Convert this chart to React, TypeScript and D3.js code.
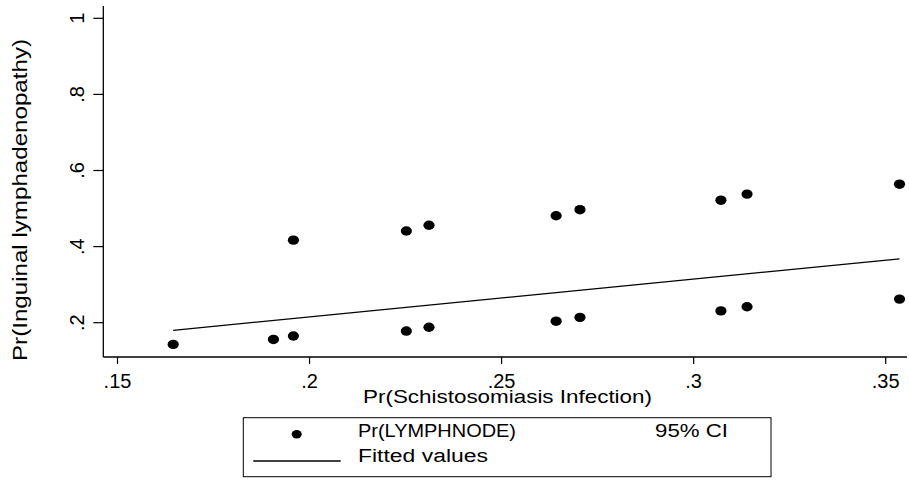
import React, { useRef, useEffect } from 'react'
import * as d3 from 'd3'

// x positions of the estimates
const infection = [0.1645, 0.1906, 0.1958, 0.2252, 0.2311, 0.2642, 0.2704, 0.3071, 0.3139, 0.3536]
// lower and upper points (upper missing where null)
const lowerValues = [0.143, 0.156, 0.165, 0.178, 0.188, 0.204, 0.214, 0.231, 0.242, 0.262]
const upperValues: (number | null)[] = [null, null, 0.417, 0.441, 0.456, 0.481, 0.497, 0.522, 0.538, 0.564]
// fitted line endpoints
const fittedX = [0.1645, 0.3536]
const fittedY = [0.18, 0.368]

const xTicks = [0.15, 0.2, 0.25, 0.3, 0.35]
const xTickLabels = ['.15', '.2', '.25', '.3', '.35']
const yTicks = [0.2, 0.4, 0.6, 0.8, 1]
const yTickLabels = ['.2', '.4', '.6', '.8', '1']

const FONT = '"Liberation Sans", Arial, sans-serif'

export default function App() {
    const svgRef = useRef<SVGSVGElement>(null)

    useEffect(() => {
        const width = 909
        const height = 480
        const svg = d3.select(svgRef.current).attr('width', width).attr('height', height)
        svg.selectAll('*').remove()

        svg.append('rect').attr('width', width).attr('height', height).attr('fill', '#fff')

        const x = d3.scaleLinear().domain([0.15, 0.35]).range([117.5, 885.7])
        const y = d3.scaleLinear().domain([0.2, 1]).range([322.7, 18.3])

        const axisX = 103.3
        const axisY = 357
        const g = svg.append('g').attr('font-family', FONT).attr('fill', '#000')

        // axis lines
        g.append('line')
            .attr('x1', axisX).attr('x2', axisX)
            .attr('y1', 6).attr('y2', axisY)
            .attr('stroke', '#000').attr('stroke-width', 1.3)
        g.append('line')
            .attr('x1', axisX).attr('x2', 907)
            .attr('y1', axisY).attr('y2', axisY)
            .attr('stroke', '#000').attr('stroke-width', 1.3)

        // y ticks + rotated labels
        yTicks.forEach((t, i) => {
            g.append('line')
                .attr('x1', axisX - 10).attr('x2', axisX)
                .attr('y1', y(t)).attr('y2', y(t))
                .attr('stroke', '#000').attr('stroke-width', 1.2)
            g.append('text')
                .attr('transform', `translate(84,${y(t)}) rotate(-90)`)
                .attr('text-anchor', 'middle')
                .attr('font-size', 20)
                .text(yTickLabels[i])
        })

        // x ticks + labels
        xTicks.forEach((t, i) => {
            g.append('line')
                .attr('x1', x(t)).attr('x2', x(t))
                .attr('y1', axisY).attr('y2', axisY + 7)
                .attr('stroke', '#000').attr('stroke-width', 1.2)
            g.append('text')
                .attr('x', x(t)).attr('y', 388)
                .attr('text-anchor', 'middle')
                .attr('font-size', 20)
                .text(xTickLabels[i])
        })

        // axis titles
        g.append('text')
            .attr('x', 507.5).attr('y', 403)
            .attr('text-anchor', 'middle')
            .attr('font-size', 19)
            .attr('textLength', 289)
            .attr('lengthAdjust', 'spacingAndGlyphs')
            .text('Pr(Schistosomiasis Infection)')
        g.append('text')
            .attr('transform', 'translate(27,200) rotate(-90)')
            .attr('text-anchor', 'middle')
            .attr('font-size', 20)
            .attr('textLength', 322)
            .attr('lengthAdjust', 'spacingAndGlyphs')
            .text('Pr(Inguinal lymphadenopathy)')

        // fitted line
        const line = d3.line<number>().x((d) => x(d)).y((_, i) => y(fittedY[i]))
        g.append('path')
            .attr('d', line(fittedX))
            .attr('fill', 'none')
            .attr('stroke', '#000')
            .attr('stroke-width', 1.3)

        // points
        const pts = [
            ...infection.map((v, i) => ({ x: v, y: lowerValues[i] })),
            ...infection.map((v, i) => ({ x: v, y: upperValues[i] })).filter((d) => d.y !== null),
        ] as { x: number; y: number }[]
        g.selectAll('.pt')
            .data(pts)
            .enter()
            .append('ellipse')
            .attr('class', 'pt')
            .attr('cx', (d) => x(d.x))
            .attr('cy', (d) => y(d.y))
            .attr('rx', 5.6)
            .attr('ry', 4.7)
            .attr('fill', '#000')

        // legend
        const lg = g.append('g')
        lg.append('rect')
            .attr('x', 243.3).attr('y', 417.7)
            .attr('width', 771 - 243.3).attr('height', 59)
            .attr('fill', '#fff')
            .attr('stroke', '#000').attr('stroke-width', 1)
        lg.append('ellipse')
            .attr('cx', 296.7).attr('cy', 434.3)
            .attr('rx', 5).attr('ry', 4.2)
            .attr('fill', '#000')
        lg.append('line')
            .attr('x1', 253.3).attr('x2', 340.7)
            .attr('y1', 461).attr('y2', 461)
            .attr('stroke', '#000').attr('stroke-width', 1.3)
        lg.append('text')
            .attr('x', 358).attr('y', 437)
            .attr('font-size', 18)
            .attr('textLength', 158)
            .attr('lengthAdjust', 'spacingAndGlyphs')
            .text('Pr(LYMPHNODE)')
        lg.append('text')
            .attr('x', 655).attr('y', 437)
            .attr('font-size', 18)
            .attr('textLength', 73)
            .attr('lengthAdjust', 'spacingAndGlyphs')
            .text('95% CI')
        lg.append('text')
            .attr('x', 358).attr('y', 462)
            .attr('font-size', 18)
            .attr('textLength', 130)
            .attr('lengthAdjust', 'spacingAndGlyphs')
            .text('Fitted values')
    }, [])

    return (
        <div style={{ position: 'absolute', left: 0, top: 0 }}>
            <svg ref={svgRef} style={{ display: 'block' }} />
        </div>
    )
}
